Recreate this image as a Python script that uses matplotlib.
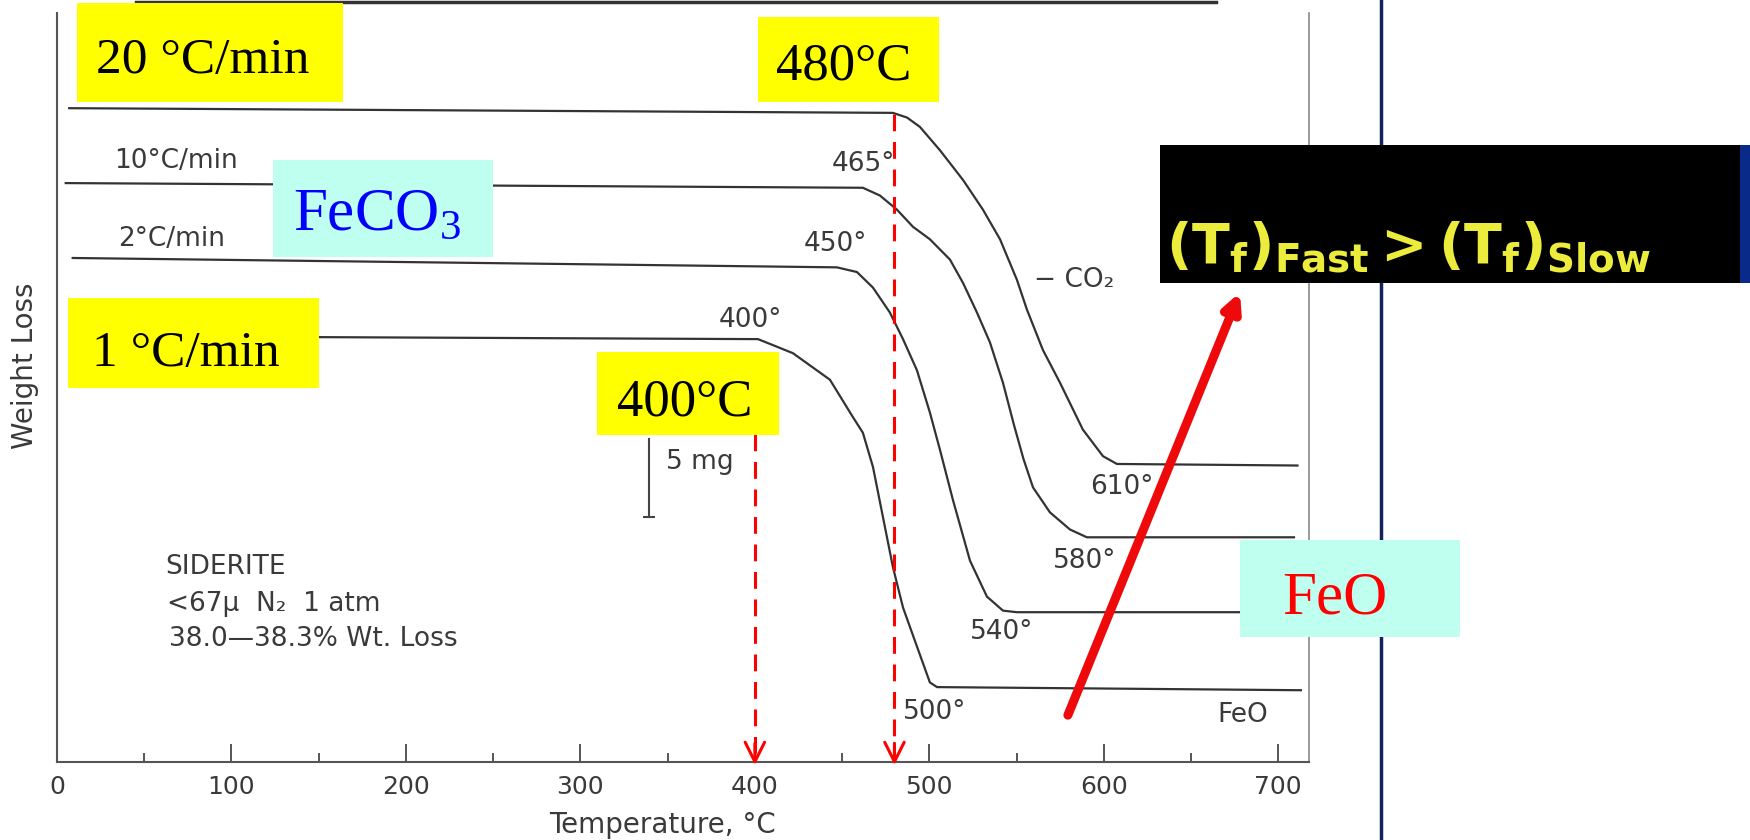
import matplotlib.pyplot as plt
from matplotlib.patches import Rectangle
from matplotlib.lines import Line2D

plt.rcParams['mathtext.fontset'] = 'custom'
plt.rcParams['mathtext.rm'] = 'Liberation Serif'
plt.rcParams['mathtext.sf'] = 'DejaVu Sans:bold'

# TGA curves of siderite, temperature (deg C) vs weight (mg, arbitrary zero)
t_20 = [7, 479.1, 487.2, 494.6, 506.1, 519.3, 530.7, 540.5, 550.2, 555.9, 565.1, 574.9,
        588.0, 599.5, 607.5, 711]
w_20 = [41.9, 41.6, 41.3, 40.7, 39.2, 37.3, 35.4, 33.5, 30.9, 29.0, 26.4, 24.3,
        21.3, 19.6, 19.1, 19.0]
t_10 = [5, 461.9, 471.7, 481.4, 490.6, 500.3, 511.8, 519.3, 527.3, 534.7, 542.2, 548.5,
        554.0, 559.4, 569.1, 580.6, 590.3, 709]
w_10 = [37.1, 36.8, 36.3, 35.4, 34.3, 33.5, 32.2, 30.7, 28.8, 26.9, 24.3, 21.6,
        19.4, 17.6, 16.0, 14.9, 14.4, 14.4]
t_2 = [9, 447.0, 458.5, 467.7, 477.4, 484.9, 492.9, 500.3, 506.1, 513.5, 523.3, 533.0,
       542.2, 550.2, 711]
w_2 = [32.3, 31.7, 31.4, 30.4, 28.8, 27.1, 25.1, 22.4, 20.0, 16.8, 12.9, 10.6,
       9.7, 9.6, 9.6]
t_1 = [8, 401.8, 421.8, 443.0, 456.2, 461.9, 467.7, 473.4, 479.1, 484.9, 492.9,
       500.3, 504.4, 713]
w_1 = [27.3, 27.1, 26.2, 24.5, 22.1, 21.1, 18.9, 15.7, 12.5, 9.9, 7.4,
       5.1, 4.8, 4.6]

onset_T = [400, 480]          # marked with red dashed arrows
xticks = [0, 100, 200, 300, 400, 500, 600, 700]

W, H = 1750, 840
fig = plt.figure(figsize=(17.5, 8.4), dpi=100)
ax = fig.add_axes([57 / W, 1 - 762 / H, 1252 / W, 749 / H])

def fx(px):
    return px / W

def fy(py):
    return 1 - py / H

ink = '#3a3a3a'
for t, w in [(t_20, w_20), (t_10, w_10), (t_2, w_2), (t_1, w_1)]:
    ax.plot(t, w, color='#333333', lw=1.6, zorder=2, solid_joinstyle='round')

ax.set_xlim(0, 717.6)
ax.set_ylim(0, 48.0)
ax.set_xticks(xticks)
ax.set_xticks(range(50, 700, 100), minor=True)
ax.set_xticklabels([str(v) for v in xticks], fontsize=18, color=ink)
ax.set_yticks([])
ax.tick_params(axis='x', which='major', direction='in', length=13, width=1.4, color='#555555', pad=9)
ax.tick_params(axis='x', which='minor', direction='in', length=6.5, width=1.4, color='#555555')
ax.spines['top'].set_visible(False)
for s in ['left', 'bottom']:
    ax.spines[s].set_color('#555555')
    ax.spines[s].set_linewidth(1.5)
ax.spines['right'].set_color('#888888')
ax.spines['right'].set_linewidth(1.2)

ax.set_xlabel('Temperature, °C', fontsize=20, color=ink, va='center')
ax.xaxis.set_label_coords(0.484, -0.084)
ax.set_ylabel('Weight Loss', fontsize=20, color=ink, va='center')
ax.yaxis.set_label_coords(-0.0256, 0.529)

# labels of the original figure
small = dict(fontsize=19, color=ink, va='center', ha='left')
ax.text(33, 38.5, '10°C/min', **small)
ax.text(35, 33.5, '2°C/min', **small)
ax.text(444, 38.3, '465°', **small)
ax.text(428, 33.2, '450°', **small)
ax.text(379, 28.3, '400°', **small)
ax.text(560, 30.9, '− CO₂', **small)
ax.text(592, 17.6, '610°', **small)
ax.text(571, 12.9, '580°', **small)
ax.text(523, 8.3, '540°', **small)
ax.text(485, 3.2, '500°', **small)
ax.text(665, 3.0, 'FeO', **small)
ax.text(349, 19.2, '5 mg', **small)
ax.text(62, 12.5, 'SIDERITE', **small)
ax.text(63, 10.1, '<67μ  N₂  1 atm', **small)
ax.text(64, 7.9, '38.0—38.3% Wt. Loss', **small)

# 5 mg scale bar
ax.plot([339.3, 339.3], [15.7, 20.7], color='#444444', lw=1.5)
ax.plot([339.3], [15.7], marker='_', ms=9, mew=1.5, color='#444444')

# red dashed arrows to the onset temperatures
for T, top in zip(onset_T, [21.0, 41.5]):
    ax.plot([T, T], [top, 0.6], color='#ff0000', lw=2.2, ls=(0, (5.5, 3.5)), zorder=4, clip_on=False)
    ax.annotate('', xy=(T, -0.2), xytext=(T, 1.2),
                arrowprops=dict(arrowstyle='->,head_length=1.4,head_width=0.7', color='#ff0000',
                                lw=2.2, shrinkA=0, shrinkB=0), annotation_clip=False, zorder=4)

# red trend arrow
ax.annotate('', xy=(678.0, 30.1), xytext=(579.4, 3.0),
            arrowprops=dict(arrowstyle='-|>,head_length=1.0,head_width=0.5', color='#ee0a0a',
                            lw=6.5, shrinkA=0, shrinkB=0), annotation_clip=False, zorder=5)

# slide decorations
fig.add_artist(Line2D([fx(1381), fx(1381)], [0, 1], transform=fig.transFigure,
                      color='#14235a', lw=2.5, zorder=0.5))
fig.add_artist(Line2D([fx(136), fx(1216)], [fy(2), fy(2)], transform=fig.transFigure,
                      color='#333333', lw=2.5, zorder=0.5))

def box(x0, y0, x1, y1, color):
    fig.add_artist(Rectangle((fx(x0), fy(y1)), (x1 - x0) / W, (y1 - y0) / H,
                             transform=fig.transFigure, facecolor=color,
                             edgecolor='none', zorder=5))

serif = dict(family='Liberation Serif', va='baseline', ha='left', zorder=6)
yellow = '#ffff00'
cyan = '#bffff0'

box(77, 3, 343, 102, yellow)
fig.text(fx(96), fy(73), '20 °C/min', fontsize=37, color='black', **serif)
box(758, 17, 939, 102, yellow)
fig.text(fx(776), fy(79), '480°C', fontsize=38, color='black', **serif)
box(597, 352, 779, 435, yellow)
fig.text(fx(617), fy(415), '400°C', fontsize=38, color='black', **serif)
box(68, 298, 319, 388, yellow)
fig.text(fx(92), fy(366), '1 °C/min', fontsize=37, color='black', **serif)
box(273, 160, 493, 257, cyan)
fig.text(fx(293), fy(230), r'FeCO$_3$', fontsize=44, color='#0000ff', **serif)
box(1240, 540, 1460, 637, cyan)
fig.text(fx(1282), fy(613), 'FeO', fontsize=44, color='#ff0000', **serif)

box(1160, 145, 1745, 283, 'black')
box(1740, 145, 1750, 283, '#0a2a8a')
fig.text(fx(1166), fy(262), r'$\mathsf{(T_f)_{Fast} > (T_f)_{Slow}}$', fontsize=40,
         color='#ecec3c', va='baseline', ha='left', zorder=6)

fig.savefig('out.png', dpi=100)
